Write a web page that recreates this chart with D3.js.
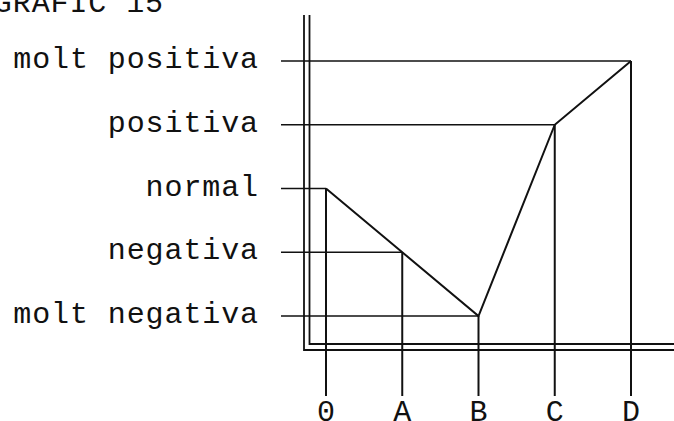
<!DOCTYPE html>
<html>
<head>
<meta charset="utf-8">
<script src="https://cdn.jsdelivr.net/npm/d3@7"></script>
<style>
  html, body { margin: 0; padding: 0; background: #fff; }
  svg { display: block; }
  text { font-family: "Courier New", "Liberation Mono", monospace; fill: #111; }
</style>
</head>
<body>
<svg id="chart" width="674" height="421"></svg>
<script>
// Phases along the horizontal axis and the qualitative levels on the vertical axis
const phases = ["0", "A", "B", "C", "D"];
const levels = ["molt negativa", "negativa", "normal", "positiva", "molt positiva"];
// Level reached at each phase
const values = ["normal", "negativa", "molt negativa", "positiva", "molt positiva"];
const title = "GRÀFIC 15";

const svg = d3.select("#chart");
const ink = "#111";

const x = d3.scalePoint().domain(phases).range([326, 631]);
const y = d3.scalePoint().domain(levels).range([316, 61]);

const points = phases.map((p, i) => ({ phase: p, level: values[i] }));

// Title (partly off the top edge of the sheet)
svg.append("text")
  .attr("x", 164).attr("y", 12)
  .attr("text-anchor", "end")
  .attr("font-size", 30)
  .attr("letter-spacing", 0.9)
  .text(title);

// Double-line axes
const axes = svg.append("g").attr("stroke", ink).attr("fill", "none").attr("stroke-width", 1.8);
axes.append("path").attr("d", "M304,15 V350 H674");
axes.append("path").attr("d", "M309.5,15 V344 H674");

// Horizontal guides from each level tick to its point
svg.append("g").selectAll("line")
  .data(points)
  .join("line")
  .attr("x1", 281)
  .attr("x2", d => x(d.phase))
  .attr("y1", d => y(d.level))
  .attr("y2", d => y(d.level))
  .attr("stroke", ink)
  .attr("stroke-width", 1.5);

// Vertical guides from each point down past the axis
svg.append("g").selectAll("line")
  .data(points)
  .join("line")
  .attr("x1", d => x(d.phase))
  .attr("x2", d => x(d.phase))
  .attr("y1", d => y(d.level))
  .attr("y2", 396)
  .attr("stroke", ink)
  .attr("stroke-width", 2);

// The profile line
svg.append("path")
  .datum(points)
  .attr("fill", "none")
  .attr("stroke", ink)
  .attr("stroke-width", 2)
  .attr("stroke-linejoin", "miter")
  .attr("d", d3.line().x(d => x(d.phase)).y(d => y(d.level)));

// Level labels
svg.append("g").selectAll("text")
  .data(levels)
  .join("text")
  .attr("x", 259)
  .attr("y", d => y(d) + 7)
  .attr("text-anchor", "end")
  .attr("font-size", 30)
  .attr("letter-spacing", 0.9)
  .text(d => d);

// Phase labels
svg.append("g").selectAll("text")
  .data(phases)
  .join("text")
  .attr("x", d => x(d))
  .attr("y", 421)
  .attr("text-anchor", "middle")
  .attr("font-size", 30)
  .text(d => d);
</script>
</body>
</html>
